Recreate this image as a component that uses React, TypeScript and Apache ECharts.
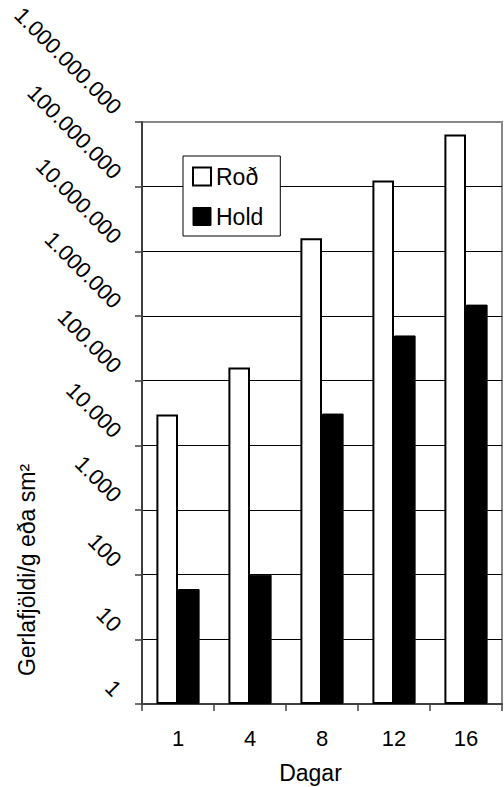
import React, { useEffect, useRef } from 'react';
import * as echarts from 'echarts';

const days = ['1', '4', '8', '12', '16'];
const rodValues = [30000, 160000, 16000000, 125000000, 640000000];
const holdValues = [60, 100, 31000, 500000, 1500000];
const seriesNames = ['Roð', 'Hold'];
const xTitle = 'Dagar';
const yTitle = 'Gerlafjöldi/g eða sm²';
const yMin = 1;
const yMax = 1000000000;

const FONT = '"Liberation Sans", Arial, sans-serif';

const fmt = (v: number) =>
  Math.round(v)
    .toString()
    .replace(/\B(?=(\d{3})+(?!\d))/g, '.');

export default function App() {
  const ref = useRef<HTMLDivElement>(null);

  useEffect(() => {
    if (!ref.current) return;
    const chart = echarts.init(ref.current, null, { renderer: 'svg' });
    const axisColor = '#404040';
    chart.setOption({
      animation: false,
      backgroundColor: '#ffffff',
      textStyle: { fontFamily: FONT },
      grid: {
        left: 142,
        top: 122,
        width: 360,
        height: 582,
        show: true,
        borderColor: '#888888',
        borderWidth: 2,
        backgroundColor: 'transparent',
        containLabel: false,
        outerBoundsMode: 'none',
      },
      legend: {
        orient: 'vertical',
        left: 183,
        top: 156,
        padding: [9, 17, 8, 9],
        itemGap: 17,
        itemWidth: 18,
        itemHeight: 18,
        backgroundColor: '#ffffff',
        borderColor: '#000000',
        borderWidth: 1,
        borderRadius: 0,
        selectedMode: false,
        icon: 'rect',
        textStyle: { color: '#000000', fontSize: 23, fontFamily: FONT },
        data: [
          { name: seriesNames[0], itemStyle: { color: '#ffffff', borderColor: '#000000', borderWidth: 2 } },
          { name: seriesNames[1], itemStyle: { color: '#000000', borderColor: '#000000', borderWidth: 1 } },
        ],
      },
      xAxis: {
        type: 'category',
        data: days,
        boundaryGap: true,
        axisLine: { show: true, lineStyle: { color: axisColor, width: 2 } },
        axisTick: { show: true, length: 7, inside: false, alignWithLabel: false, lineStyle: { color: axisColor, width: 1.5 } },
        axisLabel: { color: '#000000', fontSize: 22, fontFamily: FONT, margin: 23, interval: 0 },
        splitLine: { show: false },
        name: xTitle,
        nameLocation: 'middle',
        nameGap: 57,
        nameTextStyle: { color: '#000000', fontSize: 23, fontFamily: FONT, padding: [0, 23, 0, 0] },
      },
      yAxis: {
        type: 'log',
        logBase: 10,
        min: yMin,
        max: yMax,
        splitNumber: 9,
        axisLine: { show: true, lineStyle: { color: axisColor, width: 2 } },
        axisTick: { show: true, length: 7, inside: false, lineStyle: { color: axisColor, width: 1.5 } },
        axisLabel: {
          rotate: -45,
          margin: 13,
          padding: [0, 16, 0, 0],
          fontSize: 22,
          fontFamily: FONT,
          color: '#000000',
          formatter: (v: number) => fmt(v),
        },
        splitLine: { show: true, showMinLine: false, showMaxLine: false, lineStyle: { color: '#000000', width: 1 } },
        minorTick: { show: false },
        minorSplitLine: { show: false },
      },
      series: [
        {
          name: seriesNames[0],
          type: 'bar',
          data: rodValues,
          barGap: '0%',
          barCategoryGap: '40%',
          itemStyle: { color: '#ffffff', borderColor: '#000000', borderWidth: 2 },
        },
        {
          name: seriesNames[1],
          type: 'bar',
          data: holdValues,
          barGap: '0%',
          barCategoryGap: '40%',
          itemStyle: { color: '#000000', borderColor: '#000000', borderWidth: 1 },
        },
      ],
      graphic: [
        {
          type: 'text',
          x: 27,
          y: 570,
          rotation: Math.PI / 2,
          style: {
            text: yTitle,
            fontSize: 23,
            fontFamily: FONT,
            fill: '#000000',
            align: 'center',
            verticalAlign: 'middle',
            textAlign: 'center',
            textVerticalAlign: 'middle',
          },
        },
      ],
    });
    return () => chart.dispose();
  }, []);

  return (
    <div
      ref={ref}
      style={{ position: 'fixed', left: 0, top: 0, width: 504, height: 787, background: '#fff' }}
    />
  );
}
